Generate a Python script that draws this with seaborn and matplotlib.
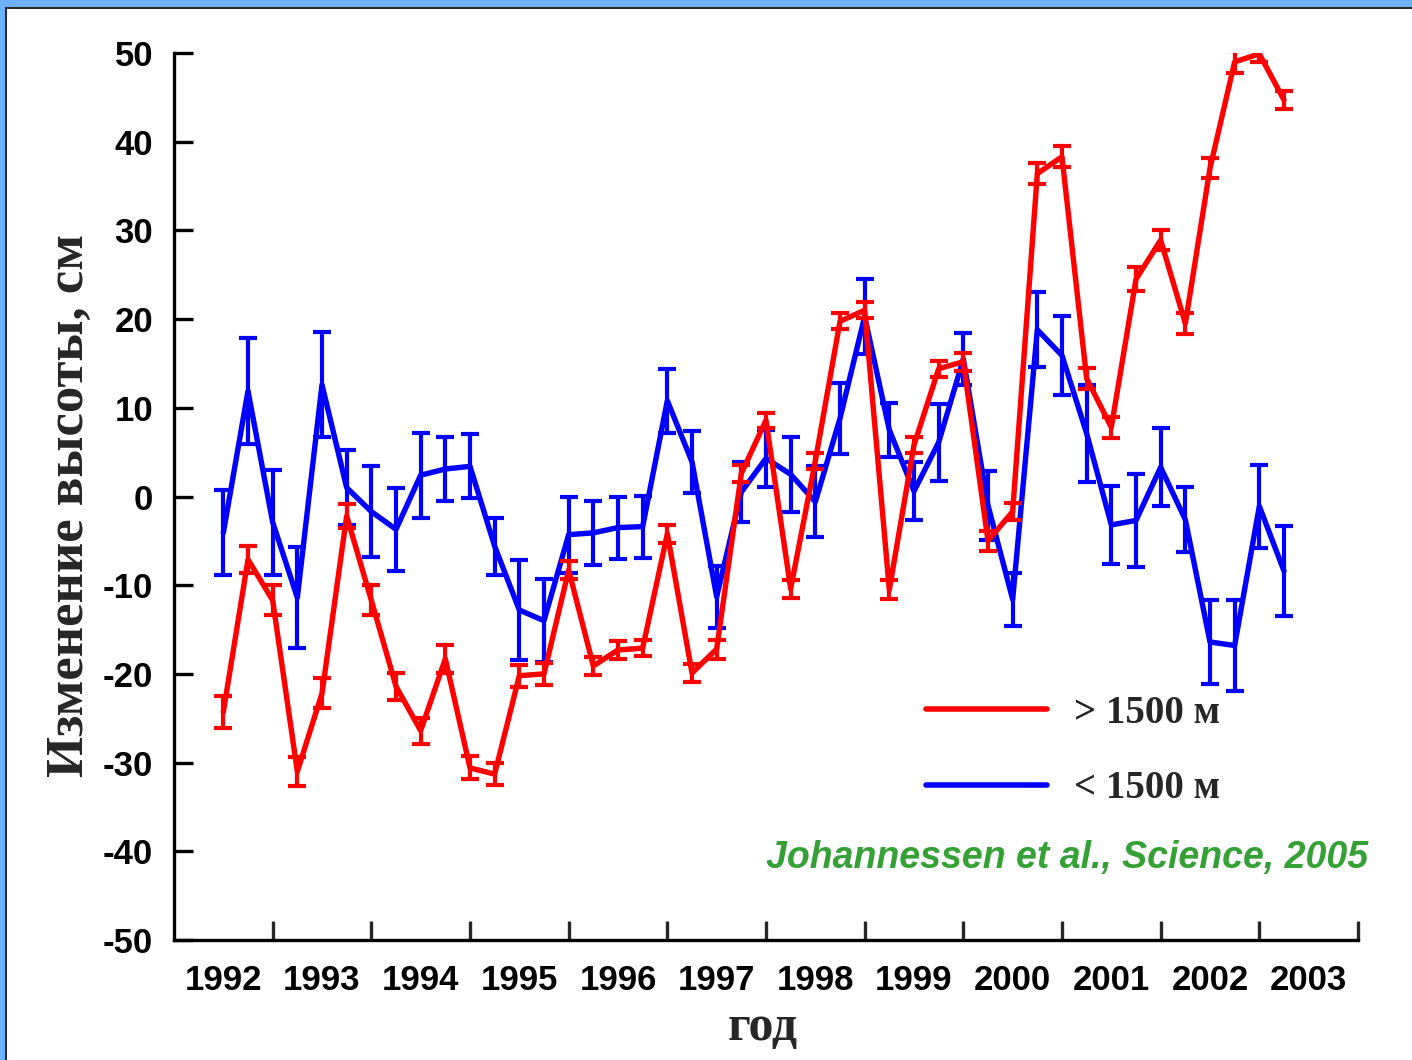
import numpy as np
import pandas as pd
import matplotlib
matplotlib.use("Agg")
import matplotlib.pyplot as plt
import seaborn as sns
from matplotlib.patches import Rectangle
from matplotlib.lines import Line2D

# ---------------- data ----------------
times = [1992.50, 1992.75, 1993.00, 1993.25, 1993.50, 1993.75, 1994.00, 1994.25,
         1994.50, 1994.75, 1995.00, 1995.25, 1995.50, 1995.75, 1996.00, 1996.25,
         1996.50, 1996.75, 1997.00, 1997.25, 1997.50, 1997.75, 1998.00, 1998.25,
         1998.50, 1998.75, 1999.00, 1999.25, 1999.50, 1999.75, 2000.00, 2000.25,
         2000.50, 2000.75, 2001.00, 2001.25, 2001.50, 2001.75, 2002.00, 2002.25,
         2002.50, 2002.75, 2003.00, 2003.25]

high_vals = [-24.3, -7.1, -11.7, -31.0, -22.2, -2.2, -11.7, -21.4, -26.4, -18.3,
             -30.6, -31.3, -20.2, -20.0, -8.3, -19.1, -17.3, -17.1, -4.2, -19.9,
             -17.2, 2.6, 8.6, -10.4, 4.0, 19.75, 21.0, -10.5, 5.8, 14.4,
             15.2, -5.0, -1.7, 36.4, 38.3, 13.3, 7.8, 24.5, 28.9, 19.5,
             37.0, 49.0, 49.9, 44.7]
high_err = [1.8, 1.5, 1.7, 1.6, 1.7, 1.35, 1.7, 1.5, 1.45, 1.6,
            1.3, 1.2, 1.25, 1.25, 1.0, 1.0, 1.0, 0.9, 1.0, 1.0,
            1.07, 0.95, 0.87, 1.0, 0.94, 0.9, 0.88, 1.1, 0.9, 0.9,
            1.0, 1.1, 1.0, 1.2, 1.2, 1.2, 1.2, 1.37, 1.1, 1.17,
            1.13, 1.2, 0.96, 1.0]

low_vals = [-4.1, 11.9, -2.9, -11.4, 12.6, 1.0, -1.7, -3.7, 2.4, 3.1,
            3.4, -5.6, -12.8, -14.0, -4.3, -4.1, -3.5, -3.4, 10.8, 3.9,
            -11.3, 0.5, 4.3, 2.5, -0.6, 8.8, 20.3, 7.5, 0.6, 6.1,
            15.5, -1.0, -11.6, 18.8, 15.9, 7.1, -3.2, -2.7, 3.3, -2.6,
            -16.4, -16.8, -1.1, -8.4]
low_err = [4.8, 6.0, 5.9, 5.7, 5.9, 4.2, 5.1, 4.7, 4.8, 3.6,
           3.6, 3.2, 5.6, 4.7, 4.3, 3.6, 3.5, 3.5, 3.6, 3.5,
           3.5, 3.4, 3.2, 4.2, 4.0, 4.0, 4.2, 3.0, 3.3, 4.3,
           2.95, 3.9, 3.0, 4.2, 4.5, 5.5, 4.4, 5.2, 4.4, 3.7,
           4.7, 5.1, 4.7, 5.1]

series_labels = ["> 1500 м", "< 1500 м"]
year_labels = ["1992", "1993", "1994", "1995", "1996", "1997",
               "1998", "1999", "2000", "2001", "2002", "2003"]
y_ticks = [-50, -40, -30, -20, -10, 0, 10, 20, 30, 40, 50]

RED = "#ff0000"
BLUE = "#0000ff"

# ---------------- style ----------------
sns.set_theme(style="white")
plt.rcParams['font.family'] = ['Liberation Sans', 'DejaVu Sans']

W, H = 1412, 1060
fig = plt.figure(figsize=(W / 100, H / 100), dpi=100, facecolor="white")
ax = fig.add_axes([174 / W, 1 - 940 / H, 1184 / W, 887 / H])
ax.set_facecolor("white")

df_low = pd.DataFrame({"t": times, "v": low_vals, "s": series_labels[1]})
df_high = pd.DataFrame({"t": times, "v": high_vals, "s": series_labels[0]})

lw = 3.9
elw = 3.0
cap = 6.8
sns.lineplot(data=df_low, x="t", y="v", color=BLUE, lw=lw, ax=ax,
             estimator=None, sort=False, legend=False)
ax.errorbar(times, low_vals, yerr=low_err, fmt="none", ecolor=BLUE,
            elinewidth=elw, capsize=cap, capthick=elw)
sns.lineplot(data=df_high, x="t", y="v", color=RED, lw=lw, ax=ax,
             estimator=None, sort=False, legend=False)
ax.errorbar(times, high_vals, yerr=high_err, fmt="none", ecolor=RED,
            elinewidth=elw, capsize=cap, capthick=elw)

ax.set_xlim(1992, 2004)
ax.set_ylim(-50, 50)

# spines
for s in ["top", "right"]:
    ax.spines[s].set_visible(False)
for s in ["left", "bottom"]:
    ax.spines[s].set_color("black")
    ax.spines[s].set_linewidth(2.4)

# ticks
ax.set_yticks(y_ticks)
ax.set_yticklabels([str(v) for v in y_ticks])
ax.tick_params(axis="y", direction="in", length=14, width=2.4, pad=15,
               labelsize=25, colors="black", left=True)
ax.set_xticks(np.arange(1993, 2005))
ax.set_xticklabels([])
ax.set_xticks([int(y) + 0.5 for y in year_labels], minor=True)
ax.set_xticklabels(year_labels, minor=True)
ax.tick_params(axis="x", which="major", direction="in", length=14, width=2.4,
               bottom=True)
ax.tick_params(axis="x", which="minor", length=0, pad=17, labelsize=25,
               colors="black", bottom=True)
for lab in ax.get_xticklabels(minor=True) + ax.get_yticklabels():
    lab.set_fontweight("bold")

# axis labels
ax.set_xlabel("год", fontsize=36, fontweight="bold",
              family=["Liberation Serif", "DejaVu Serif"], va="center")
ax.xaxis.set_label_coords(0.497, -0.099)
ax.set_ylabel("Изменение высоты, см", fontsize=38, fontweight="bold",
              family=["Liberation Serif", "DejaVu Serif"], va="center")
ax.yaxis.set_label_coords(-0.088, 0.49)

# legend
handles = [Line2D([], [], color=RED, lw=4.0, solid_capstyle="round"),
           Line2D([], [], color=BLUE, lw=4.0, solid_capstyle="round")]
leg = ax.legend(handles, series_labels, loc="upper left",
                bbox_to_anchor=(926 / W, 1 - 695 / H),
                bbox_transform=fig.transFigure, frameon=False,
                borderpad=0, borderaxespad=0, handlelength=3.1,
                handletextpad=0.7, labelspacing=0.98,
                prop={"family": ["Liberation Serif", "DejaVu Serif"],
                      "weight": "bold", "size": 28})

# citation
fig.text(1368 / W, 1 - 858 / H, "Johannessen et al., Science, 2005",
         ha="right", va="center", color="#35a035", fontsize=27,
         fontstyle="italic", fontweight="bold")

# figure frame (blue strip with dark inner line on top and left)
fig.patches.append(Rectangle((0, 1 - 7 / H), 1, 7 / H, transform=fig.transFigure,
                             facecolor="#6cb2ff", edgecolor="none", zorder=0))
fig.patches.append(Rectangle((0, 1 - 9 / H), 1, 2 / H, transform=fig.transFigure,
                             facecolor="#2a2a2a", edgecolor="none", zorder=0))
fig.patches.append(Rectangle((0, 0), 5 / W, 1, transform=fig.transFigure,
                             facecolor="#6cb2ff", edgecolor="none", zorder=0))
fig.patches.append(Rectangle((5 / W, 0), 2 / W, 1 - 7 / H, transform=fig.transFigure,
                             facecolor="#2a2a2a", edgecolor="none", zorder=0))

fig.savefig("out.png", dpi=100, facecolor="white")
